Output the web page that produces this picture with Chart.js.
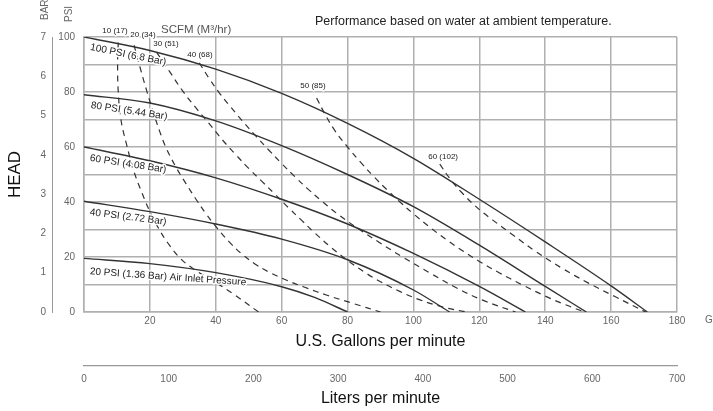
<!DOCTYPE html>
<html>
<head>
<meta charset="utf-8">
<script src="https://cdn.jsdelivr.net/npm/chart.js@4.4.0/dist/chart.umd.min.js"></script>
<style>
  html, body { margin: 0; padding: 0; background: #fff; }
</style>
</head>
<body>
<canvas id="Curvas" width="713" height="411"></canvas>
<script>
// curvas de presion de aire (gpm -> psi)
var gpm100 = [0, 20, 40, 60, 80, 100, 120, 140, 160, 171];
var psi100 = [100, 95.1, 88.3, 79.5, 68.6, 55.9, 41, 25.5, 9.5, 0];
var gpm80 = [0, 20, 40, 60, 80, 100, 120, 140, 152.5];
var psi80 = [79, 76, 69.5, 60.5, 50, 38.3, 24.3, 9.3, 0];
var gpm60 = [0, 20, 40, 60, 80, 100, 120, 134];
var psi60 = [60, 55, 48.8, 41, 32, 21.3, 9.3, 0];
var gpm40 = [0, 20, 40, 60, 80, 100, 111];
var psi40 = [40.3, 36.5, 32, 26.5, 19, 8, 0];
var gpm20 = [0, 20, 40, 60, 70, 80];
var psi20 = [19.5, 17.6, 14.3, 9.2, 5.3, 0];

// consumo de aire SCFM (lineas punteadas)
var gpmScfm10 = [10.4, 10.2, 10.4, 11.2, 12.8, 15.2, 17.7, 20.2, 22.6, 25.5, 29.3, 33.8, 38.5, 45, 53];
var psiScfm10 = [98, 90, 80, 70, 61.5, 51, 43, 36, 30.5, 25, 19.4, 15.2, 11.8, 6.8, 0];
var gpmScfm20 = [15.2, 17, 19, 21, 23, 25, 28, 31, 34, 37, 40, 44, 48, 52, 56, 61, 67, 74, 82, 90];
var psiScfm20 = [97, 89, 80.6, 72.8, 65.6, 59.5, 52.5, 46.6, 41, 35.8, 31.1, 25.6, 21, 17.4, 14.6, 11.8, 9, 6, 3, 0];
var gpmScfm30 = [22, 26, 30, 34, 38, 42, 46, 50, 54, 58, 62, 66, 70, 75, 80, 85, 90, 96, 102, 109, 116];
var psiScfm30 = [94.5, 87.4, 80.3, 74.2, 68.5, 62.6, 57.3, 52.2, 47.5, 42.8, 38, 33.4, 28.8, 23.5, 18.8, 14.6, 11, 7.4, 4.4, 1.8, 0];
var gpmScfm40 = [35, 38, 41, 44, 48, 52, 56, 60, 64, 68, 72, 77, 83, 90, 97, 105, 113, 121, 131];
var psiScfm40 = [90.6, 84.9, 79.8, 75.3, 69.6, 64.2, 59, 54, 49.2, 44.7, 40.5, 35.6, 30.5, 25, 19.8, 14.2, 8.8, 4.3, 0];
var gpmScfm50 = [70.6, 73, 76, 80, 84, 88, 92, 96, 100, 105, 110, 115, 120, 126, 133, 140, 146, 152];
var psiScfm50 = [77.8, 72.3, 66.2, 60, 54.4, 49.2, 44.4, 39.9, 35.7, 30.8, 26.3, 22.2, 18.4, 14.3, 9.9, 5.8, 2.7, 0];
var gpmScfm60 = [108, 111, 115, 119, 124, 130, 137, 145, 153, 161, 170.5];
var psiScfm60 = [53.8, 48.6, 43, 38.3, 33.5, 28.2, 22.1, 16, 10.6, 5.7, 0];

// etiquetas
var etiquetasPresion = ['100 PSI (6.8 Bar)', '80 PSI (5.44 Bar)', '60 PSI (4.08 Bar)', '40 PSI (2.72 Bar)', '20 PSI (1.36 Bar) Air Inlet Pressure'];
var presionGpm = [13.4, 13.7, 13.4, 13.4, 25.5];
var presionPsi = [93.5, 73.1, 53.8, 34.5, 12.7];
var presionAngulo = [11.5, 8.6, 8.8, 7.3, 4];

var etiquetasScfm = ['10 (17)', '20 (34)', '30 (51)', '40 (68)', '50 (85)', '60 (102)'];
var scfmGpm = [9.4, 17.9, 24.9, 35.2, 69.5, 109];
var scfmPsi = [102.2, 100.7, 97.5, 93.5, 82.2, 56.4];

var fuente = "'Liberation Sans', Arial, sans-serif";

function puntos(xs, ys) {
    return xs.map(function(x, i) { return {x: x, y: ys[i]}; });
}

function solida(xs, ys) {
    return {data: puntos(xs, ys), borderColor: '#333', borderWidth: 1.4, pointRadius: 0, fill: false, cubicInterpolationMode: 'monotone'};
}

function punteada(xs, ys) {
    return {data: puntos(xs, ys), borderColor: '#333', borderWidth: 1.2, borderDash: [6, 5], pointRadius: 0, fill: false, tension: 0.4};
}

var textos = {
    id: 'textos',
    afterDatasetsDraw: function(chart) {
        var ctx = chart.ctx;
        var sx = chart.scales.x, sy = chart.scales.y;
        ctx.save();
        ctx.textBaseline = 'middle';
        ctx.lineJoin = 'round';

        // presiones
        ctx.font = '10px ' + fuente;
        ctx.textAlign = 'center';
        for (var i = 0; i < etiquetasPresion.length; i++) {
            ctx.save();
            ctx.translate(sx.getPixelForValue(presionGpm[i]), sy.getPixelForValue(presionPsi[i]));
            ctx.rotate(presionAngulo[i] * Math.PI / 180);
            ctx.strokeStyle = '#fff';
            ctx.lineWidth = 3;
            ctx.strokeText(etiquetasPresion[i], 0, 0);
            ctx.fillStyle = '#222';
            ctx.fillText(etiquetasPresion[i], 0, 0);
            ctx.restore();
        }

        // scfm
        ctx.font = '8px ' + fuente;
        for (var j = 0; j < etiquetasScfm.length; j++) {
            var px = sx.getPixelForValue(scfmGpm[j]), py = sy.getPixelForValue(scfmPsi[j]);
            ctx.strokeStyle = '#fff';
            ctx.lineWidth = 3;
            ctx.strokeText(etiquetasScfm[j], px, py);
            ctx.fillStyle = '#222';
            ctx.fillText(etiquetasScfm[j], px, py);
        }

        ctx.textAlign = 'left';
        ctx.fillStyle = '#222';
        ctx.font = '12.5px ' + fuente;
        ctx.fillText('Performance based on water at ambient temperature.', 315, 22);
        ctx.fillStyle = '#555';
        ctx.font = '11.5px ' + fuente;
        ctx.fillText('SCFM (M\u00b3/hr)', 161, 30);
        ctx.font = '10px ' + fuente;
        ctx.fillStyle = '#666';
        ctx.fillText('GPM', 705, 320);

        // BAR / PSI verticales
        ctx.save();
        ctx.translate(49, 20);
        ctx.rotate(-Math.PI / 2);
        ctx.fillText('BAR', 0, -4);
        ctx.restore();
        ctx.save();
        ctx.translate(73, 22);
        ctx.rotate(-Math.PI / 2);
        ctx.fillText('PSI', 0, -4);
        ctx.restore();

        ctx.restore();
    }
};

var ticksGris = {color: '#666', font: {family: fuente, size: 10}};

var ctx = document.getElementById('Curvas').getContext('2d');
var chart = new Chart(ctx, {
    type: 'line',
    data: {
        datasets: [
            solida(gpm100, psi100),
            solida(gpm80, psi80),
            solida(gpm60, psi60),
            solida(gpm40, psi40),
            solida(gpm20, psi20),
            punteada(gpmScfm10, psiScfm10),
            punteada(gpmScfm20, psiScfm20),
            punteada(gpmScfm30, psiScfm30),
            punteada(gpmScfm40, psiScfm40),
            punteada(gpmScfm50, psiScfm50),
            punteada(gpmScfm60, psiScfm60)
        ]
    },
    options: {
        responsive: false,
        animation: false,
        events: [],
        layout: {padding: {top: 37, right: 36, left: 0, bottom: 0}},
        plugins: {legend: {display: false}, tooltip: {enabled: false}},
        scales: {
            x: {
                type: 'linear', position: 'bottom', min: 0, max: 180,
                ticks: Object.assign({stepSize: 20, padding: 3, maxRotation: 0, autoSkip: false,
                    callback: function(v) { return v === 0 ? '' : v; }}, ticksGris),
                grid: {color: '#b0b0b0', lineWidth: 1.5, drawTicks: false},
                border: {display: true, color: '#b0b0b0', width: 1.5},
                title: {display: true, text: 'U.S. Gallons per minute', color: '#111',
                    font: {family: fuente, size: 16}, padding: {top: 0, bottom: 15}},
                afterFit: function(s) { s.height = 54; }
            },
            lpm: {
                type: 'linear', position: 'bottom', min: 0, max: 700,
                ticks: Object.assign({stepSize: 100, padding: 7, maxRotation: 0, autoSkip: false}, ticksGris),
                grid: {display: true, drawOnChartArea: false, drawTicks: false},
                border: {display: true, color: '#999', width: 1.2},
                title: {display: true, text: 'Liters per minute', color: '#111',
                    font: {family: fuente, size: 16}, padding: {top: 0, bottom: 3}},
                afterFit: function(s) { s.height = 45; }
            },
            y: {
                position: 'left', min: 0, max: 100,
                ticks: Object.assign({stepSize: 10, padding: 9,
                    callback: function(v) { return v % 20 === 0 ? v : ''; }}, ticksGris),
                grid: {color: '#b0b0b0', lineWidth: 1.5, drawTicks: false},
                border: {display: true, color: '#b0b0b0', width: 1.5},
                afterFit: function(s) { s.width = 32; }
            },
            bar: {
                position: 'left', min: 0, max: 7, weight: 1,
                ticks: Object.assign({stepSize: 1, padding: 6}, ticksGris),
                grid: {display: true, drawOnChartArea: false, drawTicks: false},
                border: {display: true, color: '#999', width: 1},
                title: {display: true, text: 'HEAD', color: '#111',
                    font: {family: fuente, size: 17}, padding: {top: 5, bottom: 0}},
                afterFit: function(s) { s.width = 52; }
            }
        }
    },
    plugins: [textos]
});
</script>
</body>
</html>
